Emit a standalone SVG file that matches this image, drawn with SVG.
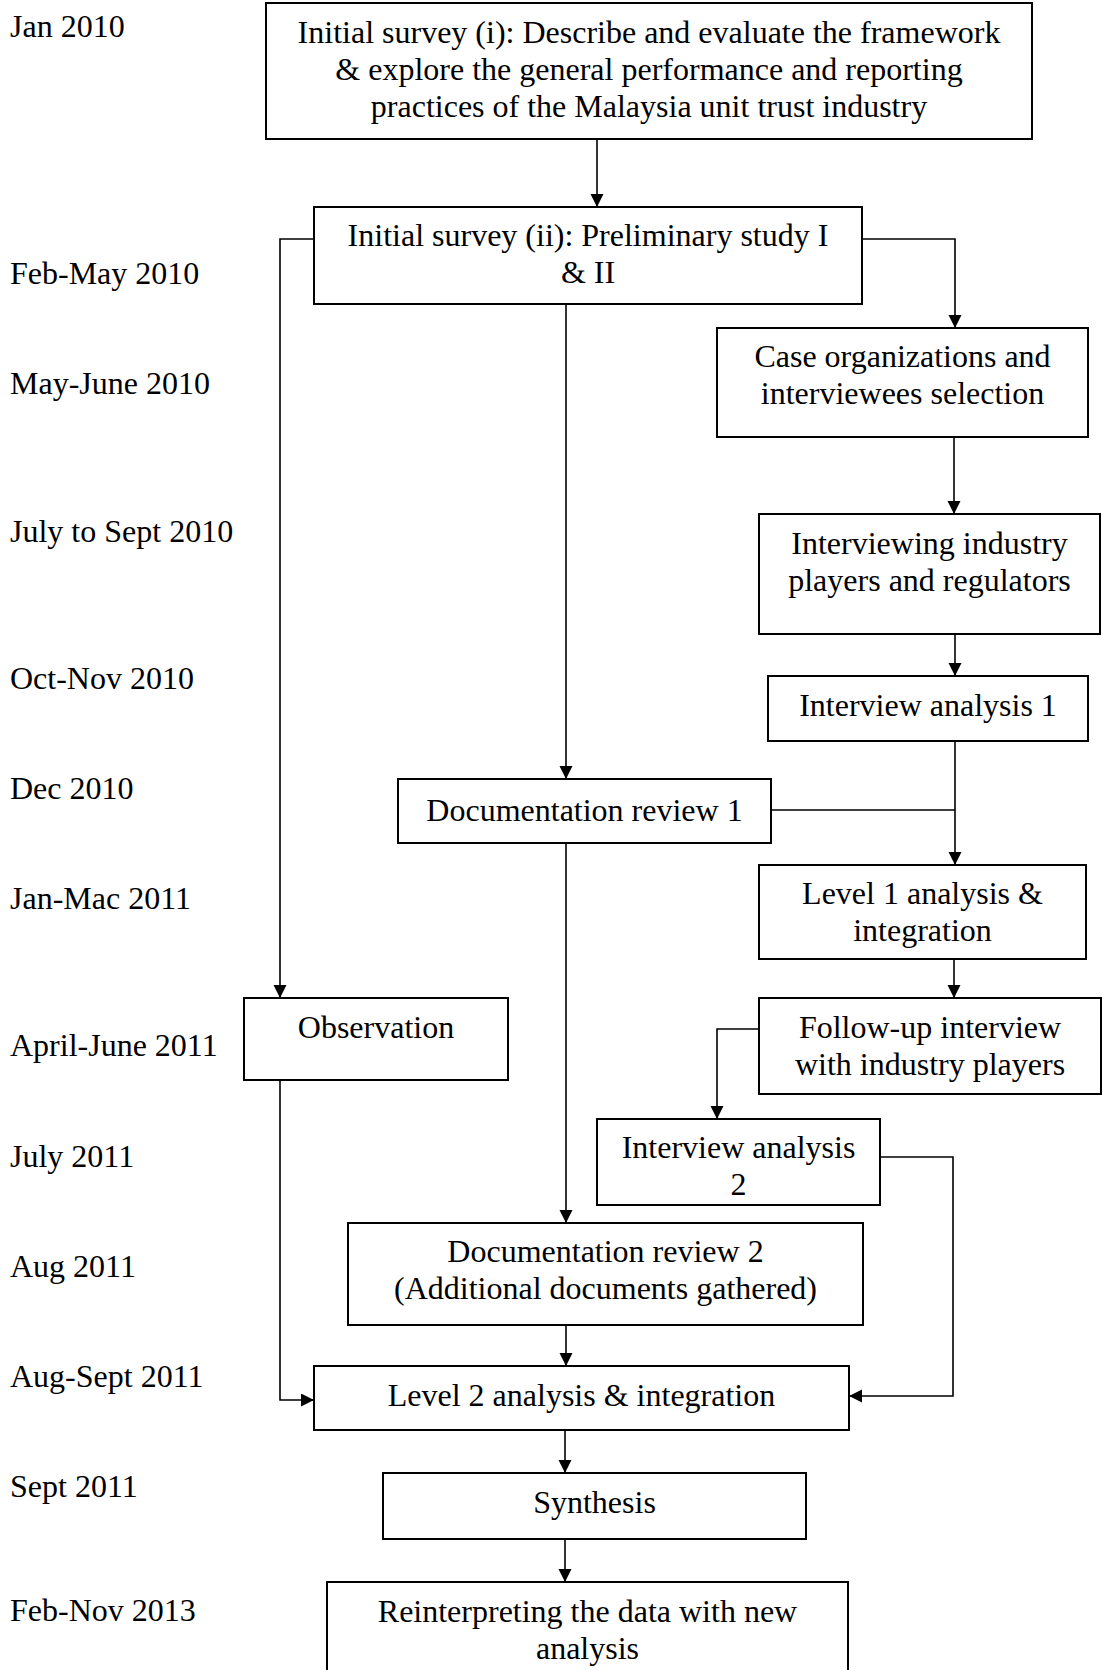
<svg xmlns="http://www.w3.org/2000/svg" width="1102" height="1670" viewBox="0 0 1102 1670">
  <style>
    .box { fill: #ffffff; stroke: #000000; stroke-width: 2; }
    .txt { font-family: "Liberation Serif", "Times New Roman", serif; font-size: 32px; fill: #000000; }
    .mid { text-anchor: middle; }
    .date { font-family: "Liberation Serif", "Times New Roman", serif; font-size: 32px; fill: #000000; }
    .wire { fill: none; stroke: #000000; stroke-width: 1.6; }
  </style>
  <defs>
    <marker id="arrow" markerUnits="userSpaceOnUse" markerWidth="14" markerHeight="14" refX="13" refY="6.5" orient="auto">
      <path d="M0,0 L13,6.5 L0,13 Z" fill="#000000"/>
    </marker>
  </defs>
  <rect width="1102" height="1670" fill="#ffffff"/>

  <!-- timeline labels -->
  <g id="dates">
    <text class="date" x="10" y="37">Jan 2010</text>
    <text class="date" x="10" y="284">Feb-May 2010</text>
    <text class="date" x="10" y="394">May-June 2010</text>
    <text class="date" x="10" y="542">July to Sept 2010</text>
    <text class="date" x="10" y="689">Oct-Nov 2010</text>
    <text class="date" x="10" y="799">Dec 2010</text>
    <text class="date" x="10" y="909">Jan-Mac 2011</text>
    <text class="date" x="10" y="1056">April-June 2011</text>
    <text class="date" x="10" y="1167">July 2011</text>
    <text class="date" x="10" y="1277">Aug 2011</text>
    <text class="date" x="10" y="1387">Aug-Sept 2011</text>
    <text class="date" x="10" y="1497">Sept 2011</text>
    <text class="date" x="10" y="1621">Feb-Nov 2013</text>
  </g>

  <!-- connectors -->
  <g id="connectors">
    <path class="wire" d="M597,139 V207" marker-end="url(#arrow)"/>
    <path class="wire" d="M314,239 H280 V998" marker-end="url(#arrow)"/>
    <path class="wire" d="M862,239 H955 V328" marker-end="url(#arrow)"/>
    <path class="wire" d="M566,304 V779" marker-end="url(#arrow)"/>
    <path class="wire" d="M954,437 V514" marker-end="url(#arrow)"/>
    <path class="wire" d="M955,634 V676" marker-end="url(#arrow)"/>
    <path class="wire" d="M955,741 V865" marker-end="url(#arrow)"/>
    <path class="wire" d="M771,810 H955"/>
    <path class="wire" d="M954,959 V998" marker-end="url(#arrow)"/>
    <path class="wire" d="M759,1029 H717 V1119" marker-end="url(#arrow)"/>
    <path class="wire" d="M880,1157 H953 V1396 H849" marker-end="url(#arrow)"/>
    <path class="wire" d="M280,1080 V1400 H314" marker-end="url(#arrow)"/>
    <path class="wire" d="M566,843 V1223" marker-end="url(#arrow)"/>
    <path class="wire" d="M566,1325 V1366" marker-end="url(#arrow)"/>
    <path class="wire" d="M565,1430 V1473" marker-end="url(#arrow)"/>
    <path class="wire" d="M565,1539 V1582" marker-end="url(#arrow)"/>
  </g>

  <g id="initial-survey-1">
    <rect class="box" x="266" y="3" width="766" height="136"/>
    <text class="txt mid" x="649" y="43">Initial survey (i): Describe and evaluate the framework</text>
    <text class="txt mid" x="649" y="80">&amp; explore the general performance and reporting</text>
    <text class="txt mid" x="649" y="117">practices of the Malaysia unit trust industry</text>
  </g>

  <g id="initial-survey-2">
    <rect class="box" x="314" y="207" width="548" height="97"/>
    <text class="txt mid" x="588" y="246">Initial survey (ii): Preliminary study I</text>
    <text class="txt mid" x="588" y="283">&amp; II</text>
  </g>

  <g id="case-selection">
    <rect class="box" x="717" y="328" width="371" height="109"/>
    <text class="txt mid" x="902.5" y="367">Case organizations and</text>
    <text class="txt mid" x="902.5" y="404">interviewees selection</text>
  </g>

  <g id="interviewing">
    <rect class="box" x="759" y="514" width="341" height="120"/>
    <text class="txt mid" x="929.5" y="554">Interviewing industry</text>
    <text class="txt mid" x="929.5" y="591">players and regulators</text>
  </g>

  <g id="interview-analysis-1">
    <rect class="box" x="768" y="676" width="320" height="65"/>
    <text class="txt mid" x="928" y="716">Interview analysis 1</text>
  </g>

  <g id="documentation-review-1">
    <rect class="box" x="398" y="779" width="373" height="64"/>
    <text class="txt mid" x="584.5" y="821">Documentation review 1</text>
  </g>

  <g id="level-1-analysis">
    <rect class="box" x="759" y="865" width="327" height="94"/>
    <text class="txt mid" x="922.5" y="904">Level 1 analysis &amp;</text>
    <text class="txt mid" x="922.5" y="941">integration</text>
  </g>

  <g id="observation">
    <rect class="box" x="244" y="998" width="264" height="82"/>
    <text class="txt mid" x="376" y="1038">Observation</text>
  </g>

  <g id="follow-up-interview">
    <rect class="box" x="759" y="998" width="342" height="96"/>
    <text class="txt mid" x="930" y="1038">Follow-up interview</text>
    <text class="txt mid" x="930" y="1075">with industry players</text>
  </g>

  <g id="interview-analysis-2">
    <rect class="box" x="597" y="1119" width="283" height="86"/>
    <text class="txt mid" x="738.5" y="1158">Interview analysis</text>
    <text class="txt mid" x="738.5" y="1195">2</text>
  </g>

  <g id="documentation-review-2">
    <rect class="box" x="348" y="1223" width="515" height="102"/>
    <text class="txt mid" x="605.5" y="1262">Documentation review 2</text>
    <text class="txt mid" x="605.5" y="1299">(Additional documents gathered)</text>
  </g>

  <g id="level-2-analysis">
    <rect class="box" x="314" y="1366" width="535" height="64"/>
    <text class="txt mid" x="581.5" y="1406">Level 2 analysis &amp; integration</text>
  </g>

  <g id="synthesis">
    <rect class="box" x="383" y="1473" width="423" height="66"/>
    <text class="txt mid" x="594.5" y="1513">Synthesis</text>
  </g>

  <g id="reinterpreting">
    <rect class="box" x="327" y="1582" width="521" height="100"/>
    <text class="txt mid" x="587.5" y="1622">Reinterpreting the data with new</text>
    <text class="txt mid" x="587.5" y="1659">analysis</text>
  </g>
</svg>
